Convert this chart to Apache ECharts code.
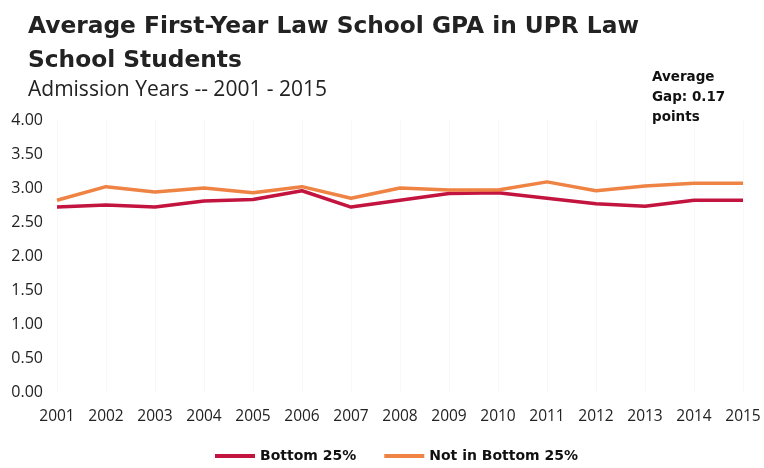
<!DOCTYPE html>
<html><head><meta charset="utf-8">
<script src="https://cdn.jsdelivr.net/npm/echarts@6/dist/echarts.min.js"></script>
<style>html,body{margin:0;padding:0;background:#fff}#c{width:764px;height:468px}</style>
</head><body><div id="c"></div>
<script>
const years = ['2001','2002','2003','2004','2005','2006','2007','2008','2009','2010','2011','2012','2013','2014','2015'];
const bottom25 = [2.72,2.75,2.72,2.81,2.83,2.96,2.72,2.82,2.92,2.93,2.85,2.77,2.73,2.82,2.82];
const notBottom25 = [2.82,3.02,2.94,3.00,2.93,3.02,2.85,3.00,2.97,2.97,3.09,2.96,3.03,3.07,3.07];
const chart = echarts.init(document.getElementById('c'));
const FONT = '"Open Sans", "DejaVu Sans", sans-serif';
const BOLD = '"DejaVu Sans", sans-serif';
chart.setOption({
  animation:false,
  title:[
    {text:'Average First-Year Law School GPA in UPR Law\nSchool Students', left:23, top:5,
     textStyle:{fontFamily:BOLD,fontWeight:'bold',fontSize:23.3,color:'#222',lineHeight:34}},
    {text:'Admission Years -- 2001 - 2015', left:23, top:75,
     textStyle:{fontFamily:FONT,fontWeight:'normal',fontSize:21,color:'#222'}},
    {text:'Average\nGap: 0.17\npoints', left:647, top:62,
     textStyle:{fontFamily:BOLD,fontWeight:'bold',fontSize:13.5,color:'#111',lineHeight:20}}
  ],
  legend:{top:444,left:210,itemWidth:40,itemHeight:4,itemGap:28,
    textStyle:{fontFamily:BOLD,fontWeight:'bold',fontSize:14,color:'#111'},
    data:[{name:'Bottom 25%',icon:'rect'},{name:'Not in Bottom 25%',icon:'rect'}]},
  grid:{left:57,right:21,top:120,bottom:76},
  xAxis:{type:'category',data:years,boundaryGap:false,
    axisLine:{show:false},axisTick:{show:false},
    axisLabel:{fontFamily:FONT,fontSize:15.5,color:'#222',margin:17},
    splitLine:{show:true,lineStyle:{color:'#f0f0f0',type:'dotted'}}},
  yAxis:{type:'value',min:0,max:4,interval:0.5,
    axisLine:{show:false},axisTick:{show:false},
    axisLabel:{fontFamily:FONT,fontSize:16,color:'#222',margin:14,
      formatter:v=>v.toFixed(2)},
    splitLine:{show:false}},
  series:[
    {name:'Bottom 25%',type:'line',data:bottom25,symbol:'none',
     lineStyle:{width:3.5,color:'#c2143f'},itemStyle:{color:'#c2143f'}},
    {name:'Not in Bottom 25%',type:'line',data:notBottom25,symbol:'none',
     lineStyle:{width:3.5,color:'#ee8344'},itemStyle:{color:'#ee8344'}}
  ]
});
</script></body></html>
